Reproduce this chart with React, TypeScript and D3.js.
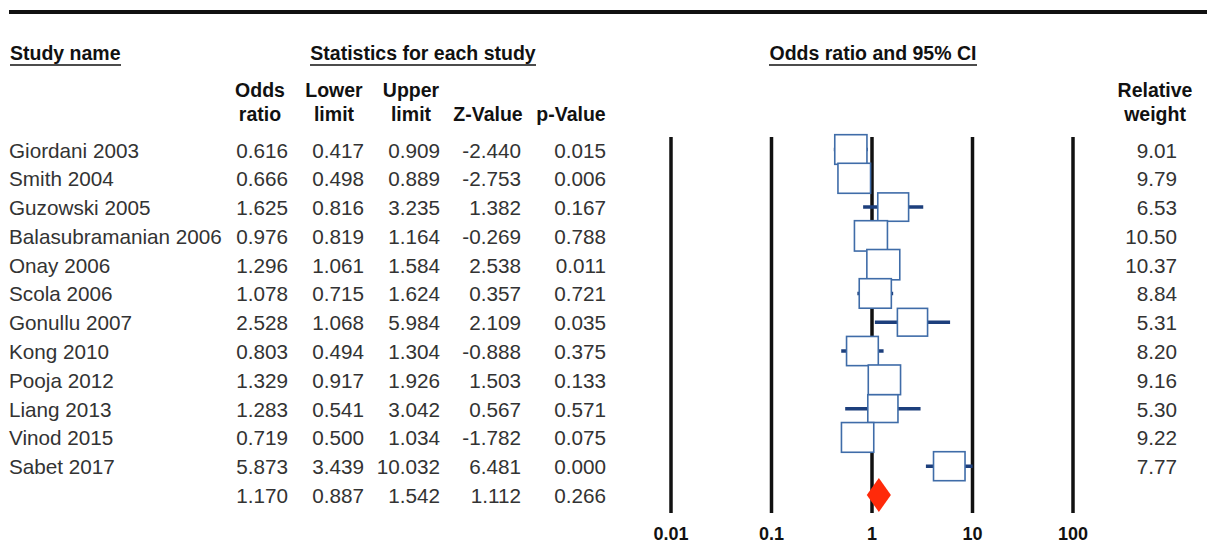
import * as d3 from "d3";

const studies = [
  "Giordani 2003",
  "Smith 2004",
  "Guzowski 2005",
  "Balasubramanian 2006",
  "Onay 2006",
  "Scola 2006",
  "Gonullu 2007",
  "Kong 2010",
  "Pooja 2012",
  "Liang 2013",
  "Vinod 2015",
  "Sabet 2017",
];
const oddsRatio = [0.616, 0.666, 1.625, 0.976, 1.296, 1.078, 2.528, 0.803, 1.329, 1.283, 0.719, 5.873];
const lowerLimit = [0.417, 0.498, 0.816, 0.819, 1.061, 0.715, 1.068, 0.494, 0.917, 0.541, 0.5, 3.439];
const upperLimit = [0.909, 0.889, 3.235, 1.164, 1.584, 1.624, 5.984, 1.304, 1.926, 3.042, 1.034, 10.032];
const zValue = [-2.44, -2.753, 1.382, -0.269, 2.538, 0.357, 2.109, -0.888, 1.503, 0.567, -1.782, 6.481];
const pValue = [0.015, 0.006, 0.167, 0.788, 0.011, 0.721, 0.035, 0.375, 0.133, 0.571, 0.075, 0.0];
const relWeight = [9.01, 9.79, 6.53, 10.5, 10.37, 8.84, 5.31, 8.2, 9.16, 5.3, 9.22, 7.77];

// pooled estimate: OR, lower, upper, Z, p
const summary = [1.17, 0.887, 1.542, 1.112, 0.266];

const axisTicks = [0.01, 0.1, 1, 10, 100];
const axisTickLabels = ["0.01", "0.1", "1", "10", "100"];

const W = 1216;
const H = 547;
const font = "'Liberation Sans', Arial, sans-serif";

const App = () => {
  const x = d3.scaleLog().domain([0.01, 100]).range([671, 1073]);
  const y = d3
    .scalePoint<number>()
    .domain(d3.range(studies.length + 1))
    .range([149.5, 495]);
  const boxSize = d3.scaleLinear().domain([5, 10.5]).range([30, 33]);

  // plain hyphen for negatives, like the original table
  const f3 = (v: number) => d3.format(".3f")(v).replace("\u2212", "-");
  const f2 = d3.format(".2f");

  // right edge of each statistics column
  const colRight = [288, 364, 440, 521, 606];
  const colCenter = [260, 334, 411, 488, 571];
  const headTop = ["Odds", "Lower", "Upper", "", ""];
  const headBottom = ["ratio", "limit", "limit", "Z-Value", "p-Value"];

  const rows = studies.map((name, i) => ({
    name,
    vals: [oddsRatio[i], lowerLimit[i], upperLimit[i], zValue[i], pValue[i]],
    w: relWeight[i],
  }));

  const lineTop = 137;
  const lineBottom = 513;
  const sy = y(studies.length)!;

  return (
    <svg
      width={W}
      height={H}
      style={{ position: "absolute", left: 0, top: 0, background: "#fff" }}
      fontFamily={font}
    >
      <line x1={9} x2={1207} y1={12} y2={12} stroke="#111" strokeWidth={4} />

      {/* section headers */}
      <g fontWeight="bold" fontSize={19.5} fill="#111">
        <text x={10} y={60}>Study name</text>
        <line x1={10} x2={121} y1={65} y2={65} stroke="#111" strokeWidth={1.5} />
        <text x={423} y={60} textAnchor="middle">Statistics for each study</text>
        <line x1={310} x2={536} y1={65} y2={65} stroke="#111" strokeWidth={1.5} />
        <text x={873} y={60} textAnchor="middle">Odds ratio and 95% CI</text>
        <line x1={769} x2={977} y1={65} y2={65} stroke="#111" strokeWidth={1.5} />

        {headTop.map((t, i) => (
          <text key={"ht" + i} x={colCenter[i]} y={97} textAnchor="middle">
            {t}
          </text>
        ))}
        {headBottom.map((t, i) => (
          <text key={"hb" + i} x={colCenter[i]} y={121} textAnchor="middle">
            {t}
          </text>
        ))}
        <text x={1155} y={97} textAnchor="middle">Relative</text>
        <text x={1155} y={121} textAnchor="middle">weight</text>
      </g>

      {/* table text */}
      <g fontSize={20.7} fill="#333">
        {rows.map((r, i) => (
          <g key={r.name}>
            <text x={9} y={y(i)! + 8}>{r.name}</text>
            {r.vals.map((v, j) => (
              <text key={j} x={colRight[j]} y={y(i)! + 8} textAnchor="end">
                {f3(v)}
              </text>
            ))}
            <text x={1177} y={y(i)! + 8} textAnchor="end">{f2(r.w)}</text>
          </g>
        ))}
        {summary.map((v, j) => (
          <text key={"s" + j} x={colRight[j]} y={sy + 8} textAnchor="end">
            {f3(v)}
          </text>
        ))}
      </g>

      {/* reference lines */}
      {axisTicks.map((t) => (
        <line
          key={"v" + t}
          x1={x(t)}
          x2={x(t)}
          y1={lineTop}
          y2={lineBottom}
          stroke="#111"
          strokeWidth={3.5}
        />
      ))}
      <g fontWeight="bold" fontSize={18} fill="#111" textAnchor="middle">
        {axisTicks.map((t, i) => (
          <text key={"l" + t} x={x(t)} y={540}>
            {axisTickLabels[i]}
          </text>
        ))}
      </g>

      {/* confidence intervals and boxes */}
      {rows.map((r, i) => (
        <line
          key={"ci" + i}
          x1={x(r.vals[1])}
          x2={x(r.vals[2])}
          y1={y(i)}
          y2={y(i)}
          stroke="#1d3f7c"
          strokeWidth={3.5}
        />
      ))}
      {rows.map((r, i) => {
        const s = boxSize(r.w);
        return (
          <rect
            key={"b" + i}
            x={x(r.vals[0]) - s / 2}
            y={y(i)! - s * 0.46}
            width={s}
            height={s * 0.92}
            fill="#fff"
            stroke="#3f6ca8"
            strokeWidth={1.6}
          />
        );
      })}

      {/* pooled diamond */}
      <path
        d={`M${x(summary[1])},${sy} L${x(summary[0])},${sy - 17} L${x(summary[2])},${sy} L${x(summary[0])},${sy + 17} Z`}
        fill="#ff2a0a"
      />
    </svg>
  );
};

export default App;
